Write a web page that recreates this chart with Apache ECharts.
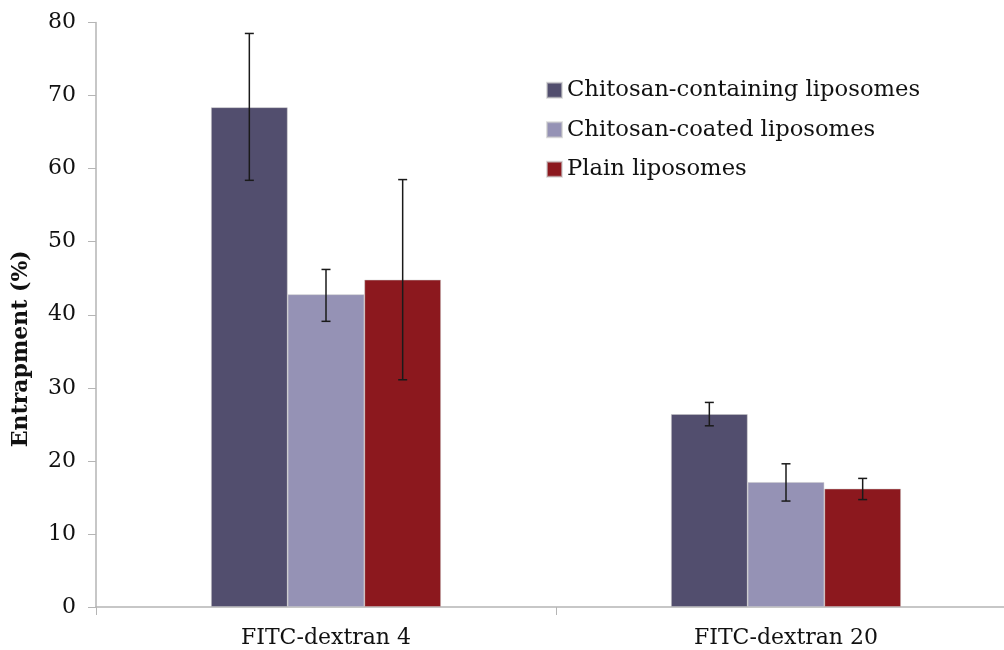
<!DOCTYPE html>
<html>
<head>
<meta charset="utf-8">
<script src="https://cdn.jsdelivr.net/npm/echarts@6/dist/echarts.min.js"></script>
<style>html,body{margin:0;padding:0;background:#fff;}#c{width:1004px;height:650px;}</style>
</head>
<body>
<div id="c"></div>
<script>
var categories = ['FITC-dextran 4', 'FITC-dextran 20'];
var seriesNames = ['Chitosan-containing liposomes', 'Chitosan-coated liposomes', 'Plain liposomes'];
var containing = [68.4, 26.4];
var coated = [42.8, 17.1];
var plain = [44.8, 16.2];
var containingErrLow = [58.4, 24.8];
var containingErrHigh = [78.5, 28.0];
var coatedErrLow = [39.1, 14.5];
var coatedErrHigh = [46.2, 19.6];
var plainErrLow = [31.1, 14.7];
var plainErrHigh = [58.5, 17.6];
var colors = ['#524e6e', '#9592b5', '#8c181e'];

var FONT = 'DejaVu Serif';
var values = [containing, coated, plain];
var errs = [[containingErrLow, containingErrHigh], [coatedErrLow, coatedErrHigh], [plainErrLow, plainErrHigh]];

var series = [];
values.forEach(function (v, i) {
  series.push({
    name: seriesNames[i],
    type: 'bar',
    data: v,
    barGap: '0%',
    barCategoryGap: '50%',
    itemStyle: { color: colors[i], borderColor: 'rgba(200,200,200,0.6)', borderWidth: 0.8 },
    emphasis: { disabled: true }
  });
});
errs.forEach(function (e, i) {
  var data = categories.map(function (c, k) { return [k, e[0][k], e[1][k]]; });
  series.push({
    type: 'custom',
    name: seriesNames[i] + ' err',
    z: 10,
    silent: true,
    data: data,
    renderItem: function (params, api) {
      var k = api.value(0);
      var lo = api.coord([k, api.value(1)]);
      var hi = api.coord([k, api.value(2)]);
      var band = api.size([1, 0])[0];
      var x = lo[0] + (i - 1) * band / 6;
      var cap = 4.5;
      var style = { stroke: '#1a1a1a', lineWidth: 1.5 };
      return {
        type: 'group',
        children: [
          { type: 'line', shape: { x1: x, y1: lo[1], x2: x, y2: hi[1] }, style: style },
          { type: 'line', shape: { x1: x - cap, y1: lo[1], x2: x + cap, y2: lo[1] }, style: style },
          { type: 'line', shape: { x1: x - cap, y1: hi[1], x2: x + cap, y2: hi[1] }, style: style }
        ]
      };
    }
  });
});

var chart = echarts.init(document.getElementById('c'), null, { renderer: 'canvas' });
chart.setOption({
  animation: false,
  backgroundColor: '#fff',
  grid: { left: 96, width: 920, top: 22.5, height: 584.5, containLabel: false, outerBoundsMode: 'none' },
  legend: {
    data: seriesNames,
    orient: 'vertical',
    left: 541,
    top: 73,
    itemWidth: 15,
    itemHeight: 15,
    itemGap: 15,
    icon: 'rect',
    textStyle: { fontFamily: FONT, fontSize: 22.7, color: '#111', lineHeight: 24.5 }
  },
  xAxis: {
    type: 'category',
    data: categories,
    axisLine: { lineStyle: { color: '#b5b5b5', width: 1.5 } },
    axisTick: { show: true, length: 8, lineStyle: { color: '#b5b5b5' } },
    axisLabel: { fontFamily: FONT, fontSize: 22, color: '#111', margin: 20 }
  },
  yAxis: {
    type: 'value',
    min: 0, max: 80, interval: 10,
    name: 'Entrapment (%)',
    nameLocation: 'middle',
    nameGap: 64,
    nameTextStyle: { fontFamily: FONT, fontSize: 22, fontWeight: 'bold', color: '#111', padding: [0, 68, 0, 0] },
    axisLine: { show: true, lineStyle: { color: '#b5b5b5', width: 1.5 } },
    axisTick: { show: true, length: 8, lineStyle: { color: '#b5b5b5' } },
    splitLine: { show: false },
    axisLabel: { fontFamily: FONT, fontSize: 22, color: '#111', margin: 20 }
  },
  series: series
});
</script>
</body>
</html>
